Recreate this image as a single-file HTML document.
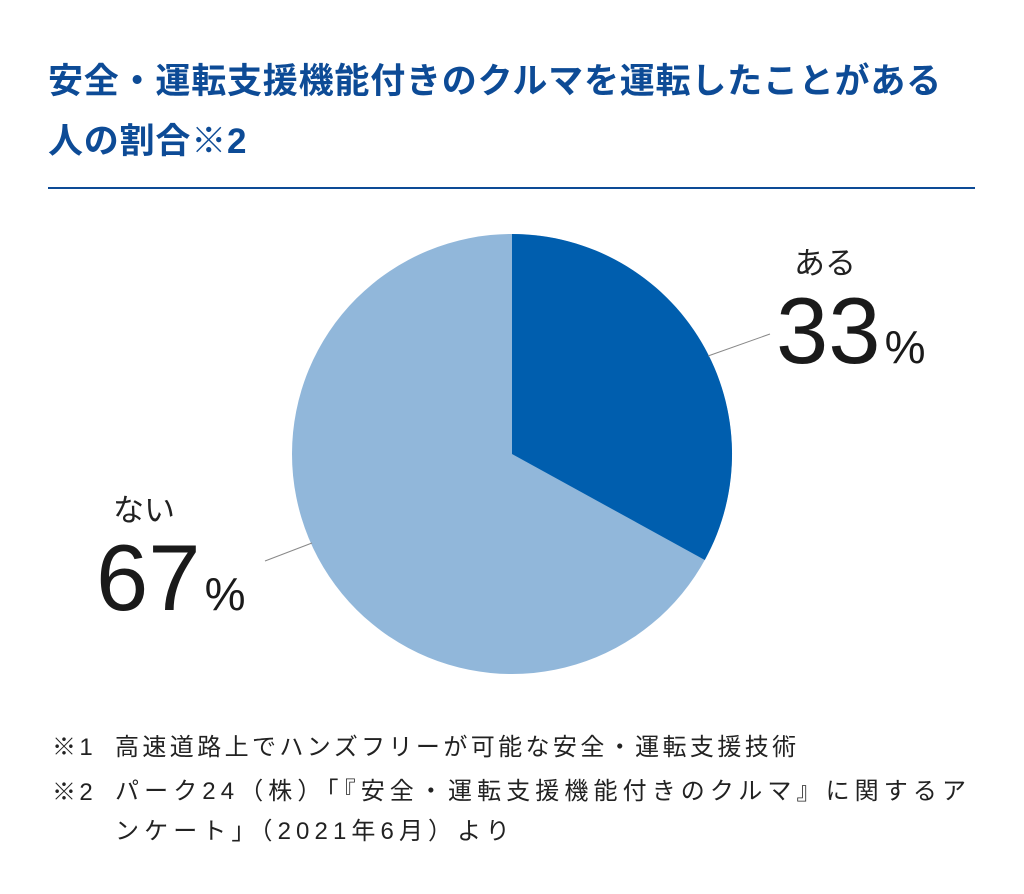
<!DOCTYPE html>
<html><head><meta charset="utf-8"><style>
body{margin:0;width:1024px;height:894px;background:#fff;overflow:hidden;font-family:"Liberation Sans","Noto Sans CJK JP",sans-serif;position:relative}
.t{position:absolute;left:48px;color:#0d4b96;font-weight:bold;font-size:35px;white-space:nowrap;letter-spacing:0.8px}
.a{position:absolute;white-space:nowrap;color:#222}
.f{font-size:24px;letter-spacing:3.4px}
</style></head><body>
<div class="t" style="top:53px">安全・運転支援機能付きのクルマを運転したことがある</div>
<div class="t" style="top:113px">人の割合※2</div>
<div style="position:absolute;left:48px;top:187px;width:927px;height:2px;background:#0d4b96"></div>
<svg style="position:absolute;left:0;top:0" width="1024" height="894">
<circle cx="512" cy="454" r="220" fill="#91b7da"/>
<path d="M512 454 L512 234 A220 220 0 0 1 704.8 560 Z" fill="#005eae"/>
<line x1="708" y1="356" x2="770" y2="334" stroke="#888" stroke-width="1"/>
<line x1="265" y1="561" x2="312" y2="543" stroke="#888" stroke-width="1"/>
</svg>
<div class="a" style="left:794px;top:238px;font-size:31px">ある</div>
<div class="a" style="left:776px;top:276px;font-size:94px;line-height:110px;color:#1a1a1a">33<span style="font-size:46px;margin-left:4px">%</span></div>
<div class="a" style="left:113px;top:485px;font-size:31px">ない</div>
<div class="a" style="left:96px;top:523px;font-size:94px;line-height:110px;color:#1a1a1a">67<span style="font-size:46px;margin-left:4px">%</span></div>
<div class="a f" style="left:52px;top:727px">※1</div>
<div class="a f" style="left:115px;top:727px">高速道路上でハンズフリーが可能な安全・運転支援技術</div>
<div class="a f" style="left:52px;top:772px">※2</div>
<div class="a f" style="left:115px;top:772px;line-height:40px;letter-spacing:5.1px">パーク24（株）「『安全・運転支援機能付きのクルマ』に関するア<br>ンケート」（2021年6月）より</div>
</body></html>
